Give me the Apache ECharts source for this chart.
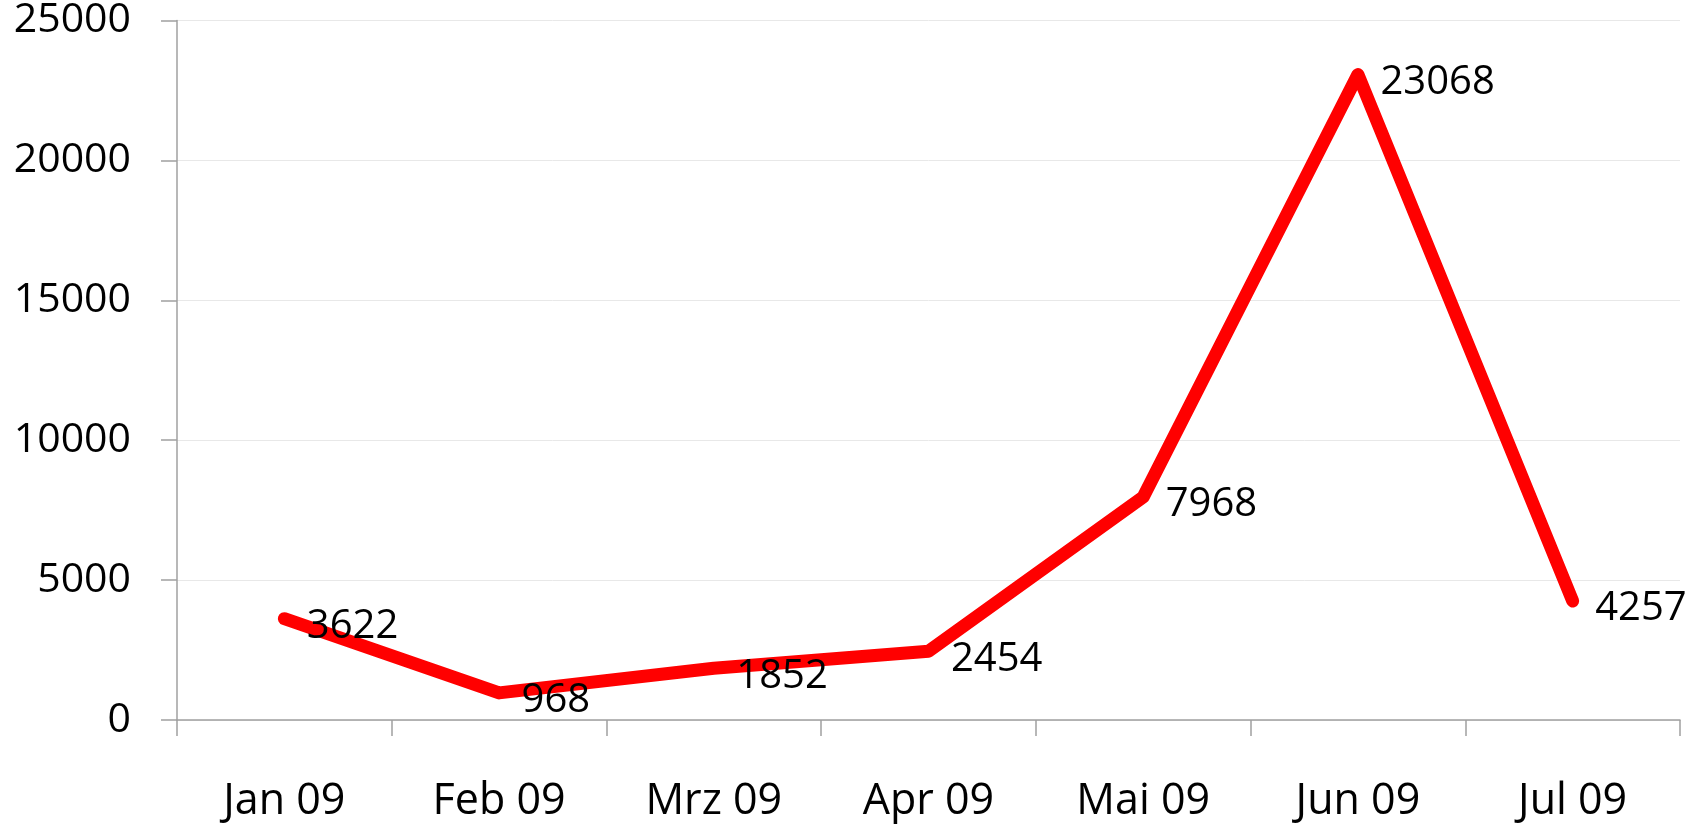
<!DOCTYPE html>
<html>
<head>
    <meta charset="utf-8">
    <title>Monatswerte 2009</title>
    <script src="https://cdn.jsdelivr.net/npm/echarts@6.0.0/dist/echarts.min.js"></script>
    <style>
        html, body { margin: 0; padding: 0; background: #ffffff; }
        #main { width: 1704px; height: 824px; }
    </style>
</head>
<body>
    <div id="main"></div>

    <script>
        // Daten
        const months = ['Jan 09', 'Feb 09', 'Mrz 09', 'Apr 09', 'Mai 09', 'Jun 09', 'Jul 09'];
        const values = [3622, 968, 1852, 2454, 7968, 23068, 4257];
        const yTicks = [0, 5000, 10000, 15000, 20000, 25000];

        var myChart = echarts.init(document.getElementById('main'));

        const font = "'Open Sans', sans-serif";
        const axisGray = '#a0a0a0';

        const option = {
            animation: false,
            grid: { left: 177, right: 24, top: 20, bottom: 104 },
            xAxis: {
                type: 'category',
                data: months,
                boundaryGap: true,
                axisLine: { lineStyle: { color: axisGray, width: 1.5 } },
                axisTick: { show: true, length: 16, lineStyle: { color: axisGray, width: 1.5 } },
                axisLabel: { color: '#000', fontSize: 43, fontFamily: font, margin: 60 }
            },
            yAxis: {
                type: 'value',
                min: yTicks[0],
                max: yTicks[yTicks.length - 1],
                interval: yTicks[1] - yTicks[0],
                axisLine: { show: true, lineStyle: { color: axisGray, width: 1.5 } },
                axisTick: { show: true, length: 16, lineStyle: { color: axisGray, width: 1.5 } },
                axisLabel: {
                    color: '#000', fontSize: 41, fontFamily: font, margin: 46,
                    formatter: function (v) { return String(v); }
                },
                splitLine: { lineStyle: { color: '#e8e8e8', width: 1 } }
            },
            series: [{
                type: 'line',
                data: values,
                showSymbol: true,
                symbol: 'circle',
                symbolSize: 1,
                itemStyle: { color: 'rgba(255,0,0,0)', borderWidth: 0 },
                lineStyle: { color: '#ff0000', width: 13, cap: 'round', join: 'round' },
                label: {
                    show: true,
                    position: 'right',
                    distance: 22,
                    offset: [0, 8],
                    color: '#000',
                    fontSize: 40,
                    fontFamily: font
                }
            }]
        };

        myChart.setOption(option);
        window.addEventListener('resize', function() {
            myChart.resize();
        });
    </script>
</body>
</html>
